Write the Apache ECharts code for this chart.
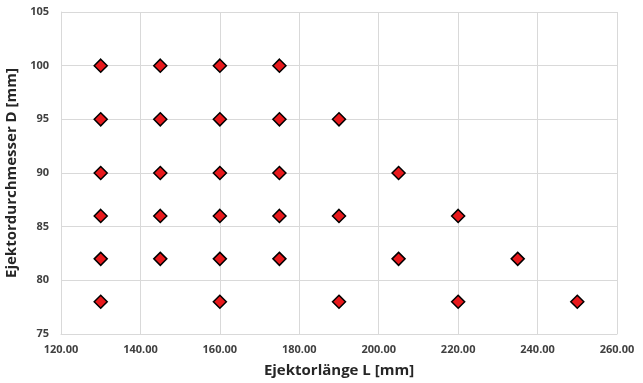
<!DOCTYPE html>
<html>
<head>
<meta charset="utf-8">
<script src="https://cdn.jsdelivr.net/npm/echarts@6/dist/echarts.min.js"></script>
<style>
  html, body { margin: 0; padding: 0; background: #fff; }
  #chart { width: 643px; height: 383px; }
</style>
</head>
<body>
<div id="chart"></div>
<script>
// Messpunkte: Ejektorlänge L und Ejektordurchmesser D
var laenge = [130, 130, 130, 130, 130, 130,
              145, 145, 145, 145, 145,
              160, 160, 160, 160, 160, 160,
              175, 175, 175, 175, 175,
              190, 190, 190,
              205, 205,
              220, 220,
              235,
              250];
var durchmesser = [100, 95, 90, 86, 82, 78,
                   100, 95, 90, 86, 82,
                   100, 95, 90, 86, 82, 78,
                   100, 95, 90, 86, 82,
                   95, 86, 78,
                   90, 82,
                   86, 78,
                   82,
                   78];

function punkte(xs, ys) {
    var arr = []
    for (var i = 0; i < xs.length; i++) {
        arr.push([xs[i], ys[i]])
    }
    return arr
}

var myChart = echarts.init(document.getElementById('chart'));
var option = {
    animation: false,
    grid: {
        left: 61,
        right: 26,
        top: 12,
        bottom: 49,
        outerBoundsMode: 'none',
        containLabel: false
    },
    xAxis: {
        type: 'value',
        min: 120,
        max: 260,
        interval: 20,
        name: 'Ejektorlänge L [mm]',
        nameLocation: 'middle',
        nameGap: 29,
        nameTextStyle: {
            fontFamily: 'Open Sans',
            fontSize: 15,
            fontWeight: 'bold',
            color: '#262626'
        },
        axisLine: { lineStyle: { color: '#d9d9d9' } },
        axisTick: { show: false },
        splitLine: { lineStyle: { color: '#d9d9d9' } },
        axisLabel: {
            formatter: function (v) { return v.toFixed(2); },
            fontFamily: 'Open Sans',
            fontSize: 11,
            fontWeight: 'bold',
            color: '#404040',
            margin: 10
        }
    },
    yAxis: {
        type: 'value',
        min: 75,
        max: 105,
        interval: 5,
        name: 'Ejektordurchmesser D [mm]',
        nameLocation: 'middle',
        nameGap: 33,
        nameTextStyle: {
            fontFamily: 'Open Sans',
            fontSize: 15,
            fontWeight: 'bold',
            color: '#262626'
        },
        axisLine: { show: true, lineStyle: { color: '#d9d9d9' } },
        axisTick: { show: false },
        splitLine: { lineStyle: { color: '#d9d9d9' } },
        axisLabel: {
            fontFamily: 'Open Sans',
            fontSize: 11,
            fontWeight: 'bold',
            color: '#404040',
            margin: 12
        }
    },
    series: [
        {
            type: 'scatter',
            symbol: 'diamond',
            symbolSize: 13,
            itemStyle: {
                color: '#e8191c',
                opacity: 1,
                borderColor: '#000',
                borderWidth: 1.5
            },
            data: punkte(laenge, durchmesser)
        }
    ]
};
myChart.setOption(option, true);
</script>
</body>
</html>
